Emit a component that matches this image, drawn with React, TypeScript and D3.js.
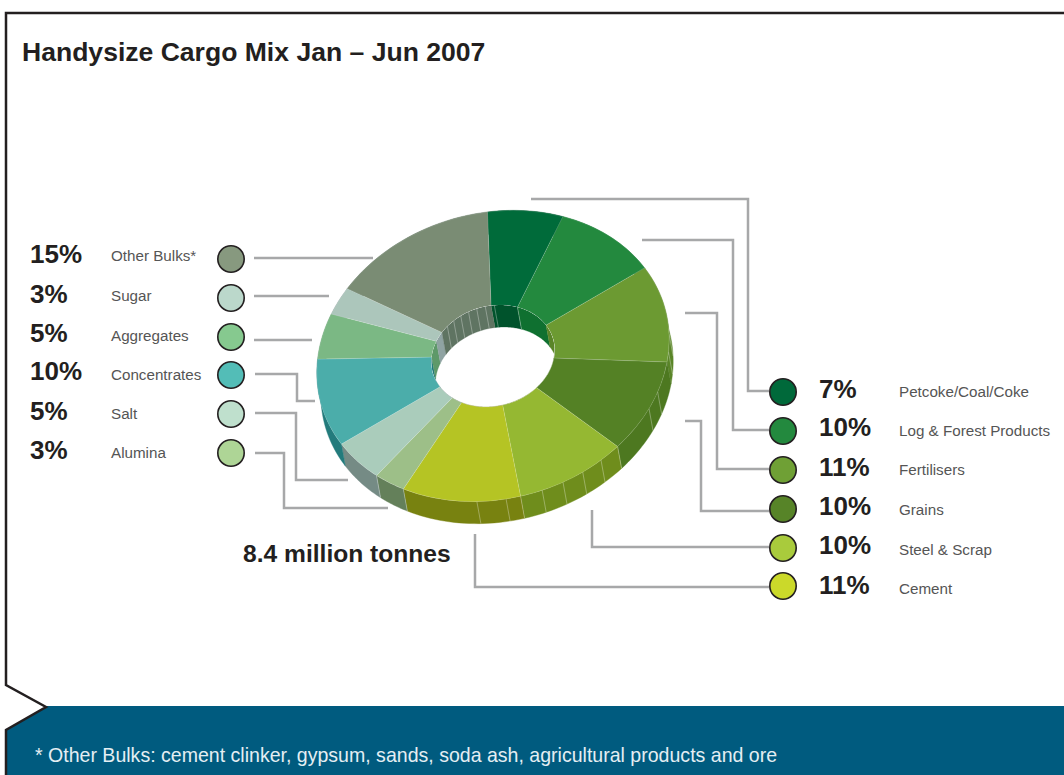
import React from "react";
import * as d3 from "d3";

// Cargo shares, clockwise from the twelve-o'clock side of the ring
const categories = ["Petcoke/Coal/Coke", "Log & Forest Products", "Fertilisers", "Grains", "Steel & Scrap", "Cement", "Alumina", "Salt", "Concentrates", "Aggregates", "Sugar", "Other Bulks*"];
const shares = [7, 10, 11, 10, 10, 11, 3, 5, 10, 5, 3, 15];
const topColors = ["#006b3a", "#23893e", "#6c9a32", "#548125", "#95b832", "#b5c424", "#9dbf88", "#aaccbb", "#4badaa", "#7bb884", "#acc6bb", "#7a8c74"];
const sideColors = ["#00532c", "#0f7030", "#5a8528", "#4d7820", "#6f8d1c", "#788210", "#64805a", "#758b85", "#237b7c", "#5e9969", "#8fa3a2", "#5f7462"];
const legendColors = ["#00693a", "#23893e", "#6fa035", "#578428", "#a9cb3c", "#cbd92a", "#aed596", "#bfe0cd", "#53bdb7", "#86c98f", "#bbd8cb", "#87997f"];
// Share offsets within each slice where the extruded wall has a seam
const sideSeams = [[0.12, 1], [], [0.72, 0.9], [0.33, 0.52, 1], [0.2, 0.4, 0.6, 0.8], [0, 0.12, 0.36], [0, 1], [], [], [], [], [0.15, 0.3, 0.45, 0.6, 0.75, 0.9]];

const leftOrder = ["Other Bulks*", "Sugar", "Aggregates", "Concentrates", "Salt", "Alumina"];
const rightOrder = ["Petcoke/Coal/Coke", "Log & Forest Products", "Fertilisers", "Grains", "Steel & Scrap", "Cement"];

const W = 1064;
const H = 775;
const cx = 493;
const cy = 356;
const outerR = 178.5;
const innerR = outerR * 0.35;
const squash = 0.8;
const tilt = -15.5;
const dropX = 4;
const dropY = 22;
const startAngle = (10.7 * Math.PI) / 180;

const leftDotY = [259, 298, 337, 375, 414, 453];
const rightDotY = [392, 431, 470, 509, 548, 586];
const leftPctY = [263, 303, 341.5, 380, 420, 459];
const rightPctY = [398, 436, 476, 515, 554, 594];
const leftLabelY = [261, 301, 341, 380, 419, 458];
const rightLabelY = [397, 436, 475, 515, 555, 594];

// Callout routes, from the legend dot towards the ring
const leftLeaders: [number, number][][] = [
  [[254, 258], [373, 258]],
  [[254, 296], [329, 296]],
  [[254, 340], [312, 340]],
  [[255, 374], [297, 374], [297, 401], [315, 401]],
  [[255, 413], [296, 413], [296, 480], [348, 480]],
  [[255, 453], [284, 453], [284, 508], [388, 508]],
];
const rightLeaders: [number, number][][] = [
  [[769, 391], [748, 391], [748, 199], [531, 199]],
  [[769, 430], [733, 430], [733, 240], [642, 240]],
  [[769, 469], [717, 469], [717, 313], [685, 313]],
  [[769, 511], [701, 511], [701, 421], [685, 421]],
  [[769, 547], [592, 547], [592, 510]],
  [[769, 587], [475, 587], [475, 534]],
];

const sansFont = "'Liberation Sans', Arial, sans-serif";
const tiltRad = (tilt * Math.PI) / 180;

// Projects a polar position on the ring plane to the page
function project(angle: number, r: number, dx = 0, dy = 0): [number, number] {
  const x0 = r * Math.sin(angle);
  const y0 = -r * Math.cos(angle) * squash;
  return [
    cx + dx + x0 * Math.cos(tiltRad) - y0 * Math.sin(tiltRad),
    cy + dy + x0 * Math.sin(tiltRad) + y0 * Math.cos(tiltRad),
  ];
}

// Band between the top rim and the dropped rim for an angular span
function wallPath(a0: number, a1: number, r: number): string {
  const steps = d3.range(0, 25).map((i) => a0 + ((a1 - a0) * i) / 24);
  const top = steps.map((a) => project(a, r));
  const bottom = steps.slice().reverse().map((a) => project(a, r, dropX, dropY));
  return (d3.line()([...top, ...bottom]) ?? "") + "Z";
}

function ringPath(r: number, dx = 0, dy = 0): string {
  const pts = d3.range(0, 121).map((i) => project((i / 120) * 2 * Math.PI, r, dx, dy));
  return (d3.line()(pts) ?? "") + "Z";
}

export default function App() {
  const pie = d3.pie<number>().sort(null).startAngle(startAngle).endAngle(startAngle + 2 * Math.PI);
  const slices = pie(shares);
  const arc = d3.arc<d3.PieArcDatum<number>>().innerRadius(innerR).outerRadius(outerR);
  const lead = d3.line();
  const byName = (name: string) => categories.indexOf(name);
  const transform = `translate(${cx},${cy}) rotate(${tilt}) scale(1,${squash})`;

  const seam = (a: number, r: number, key: string) => {
    const p = project(a, r);
    const q = project(a, r, dropX, dropY);
    return <line key={key} x1={p[0]} y1={p[1]} x2={q[0]} y2={q[1]} stroke="#fff" strokeOpacity={0.45} strokeWidth={0.7} />;
  };

  const legendRow = (name: string, dotY: number, pctY: number, labelY: number, pctX: number, dotX: number, labelX: number) => {
    const i = byName(name);
    return (
      <g key={name}>
        <text x={pctX} y={pctY} fontSize={26} fontWeight={700} fill="#231f20" fontFamily={sansFont}>{shares[i]}%</text>
        <circle cx={dotX} cy={dotY} r={13.2} fill={legendColors[i]} stroke="#231f20" strokeWidth={1.6} />
        <text x={labelX} y={labelY} fontSize={15.2} fill="#555555" fontFamily={sansFont}>{name}</text>
      </g>
    );
  };

  return (
    <svg width={W} height={H} style={{ position: "absolute", left: 0, top: 0 }}>
      <rect width={W} height={H} fill="#fff" />
      <path d="M47,706H1064V775H6V730Z" fill="#005b7f" />
      <path d="M1064,13H6V685L46,707L6,730V775" fill="none" stroke="#231f20" strokeWidth={2.5} />
      <text x={22} y={61} fontSize={26.55} fontWeight={700} fill="#231f20" fontFamily={sansFont}>Handysize Cargo Mix Jan – Jun 2007</text>
      <text x={35} y={762} fontSize={19.56} fill="#e4eef3" fontFamily={sansFont}>* Other Bulks: cement clinker, gypsum, sands, soda ash, agricultural products and ore</text>
      <text x={243} y={562} fontSize={24.6} fontWeight={700} fill="#231f20" fontFamily={sansFont}>8.4 million tonnes</text>

      <g fill="none" stroke="#a7a8a9" strokeWidth={2.5}>
        {[...leftLeaders, ...rightLeaders].map((pts, i) => <path key={i} d={lead(pts) ?? ""} />)}
      </g>

      {/* Outer wall, then the top face over it */}
      <g>
        {slices.map((s, i) => (
          <path key={i} d={wallPath(s.startAngle, s.endAngle, outerR)} fill={sideColors[i]} stroke={sideColors[i]} strokeWidth={0.4} />
        ))}
        {slices.flatMap((s, i) =>
          sideSeams[i].map((t, j) => seam(s.startAngle + (s.endAngle - s.startAngle) * t, outerR, `o${i}-${j}`))
        )}
      </g>
      <g transform={transform}>
        {slices.map((s, i) => (
          <path key={i} d={arc(s) ?? ""} fill={topColors[i]} stroke="#fff" strokeOpacity={0.25} strokeWidth={0.5} />
        ))}
      </g>

      {/* Hole: white lens with the far inner wall showing above it */}
      <clipPath id="hole"><path d={ringPath(innerR)} /></clipPath>
      <path d={ringPath(innerR)} fill="#fff" />
      <g clipPath="url(#hole)">
        {slices.map((s, i) => (
          <path key={i} d={wallPath(s.startAngle, s.endAngle, innerR)} fill={sideColors[i]} stroke={sideColors[i]} strokeWidth={0.3} />
        ))}
        {slices.flatMap((s, i) =>
          sideSeams[i].map((t, j) => seam(s.startAngle + (s.endAngle - s.startAngle) * t, innerR, `i${i}-${j}`))
        )}
      </g>

      {leftOrder.map((n, i) => legendRow(n, leftDotY[i], leftPctY[i], leftLabelY[i], 30, 231, 111))}
      {rightOrder.map((n, i) => legendRow(n, rightDotY[i], rightPctY[i], rightLabelY[i], 819, 783, 899))}
    </svg>
  );
}
